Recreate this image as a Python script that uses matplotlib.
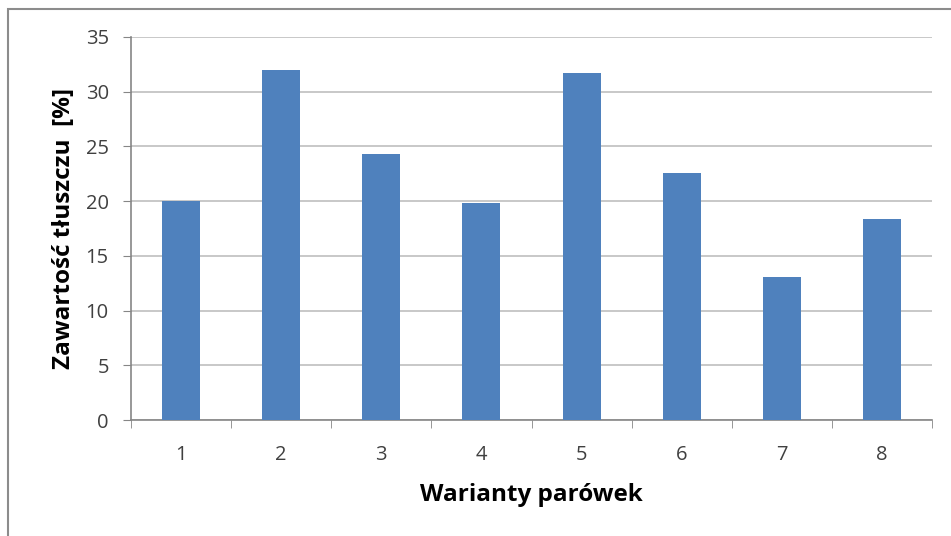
import matplotlib.pyplot as plt
import numpy as np
from matplotlib.patches import Rectangle

# zawartość tłuszczu w poszczególnych wariantach parówek
warianty = ['1', '2', '3', '4', '5', '6', '7', '8']
tluszcz = [20.0, 32.0, 24.3, 19.8, 31.7, 22.6, 13.1, 18.4]
yticks = [0, 5, 10, 15, 20, 25, 30, 35]

plt.rcParams['font.family'] = ['Open Sans', 'DejaVu Sans']

fig = plt.figure(figsize=(9.51, 5.36), dpi=100)
ax = fig.add_axes([131/951, 116/536, 801/951, 383/536])

# ramka wykresu
fig.patches.append(Rectangle((8/951, -0.1), 1.2, (536 - 9)/536 + 0.1,
                             transform=fig.transFigure, fill=False,
                             edgecolor='#8c8c8c', linewidth=1.5))

x = np.arange(len(warianty))
ax.bar(x, tluszcz, width=0.38, color='#4f81bd', zorder=3)

ax.set_xlim(-0.5, len(warianty) - 0.5)
ax.set_ylim(0, 35)
ax.set_yticks(yticks)
ax.yaxis.grid(True, color='#bfbfbf', linewidth=1.2, zorder=0)

ax.set_xticks(x)
ax.set_xticklabels(warianty)
ax.set_xticks(np.arange(len(warianty) + 1) - 0.5, minor=True)
ax.tick_params(axis='x', which='major', length=0, pad=18,
               labelsize=14.5, labelcolor='#404040')
ax.tick_params(axis='x', which='minor', length=6, color='#868686', direction='out')
ax.tick_params(axis='y', length=6, color='#868686', labelsize=14.5,
               labelcolor='#404040', pad=10)

for side in ['top', 'right']:
    ax.spines[side].set_visible(False)
for side in ['left', 'bottom']:
    ax.spines[side].set_color('#868686')
    ax.spines[side].set_linewidth(1.2)

ax.set_xlabel('Warianty parówek', fontsize=17.5, fontweight='bold', labelpad=13)
ax.set_ylabel('Zawartość tłuszczu  [%]', fontsize=17.5, fontweight='bold', labelpad=7)

fig.savefig('out.png', dpi=100)
